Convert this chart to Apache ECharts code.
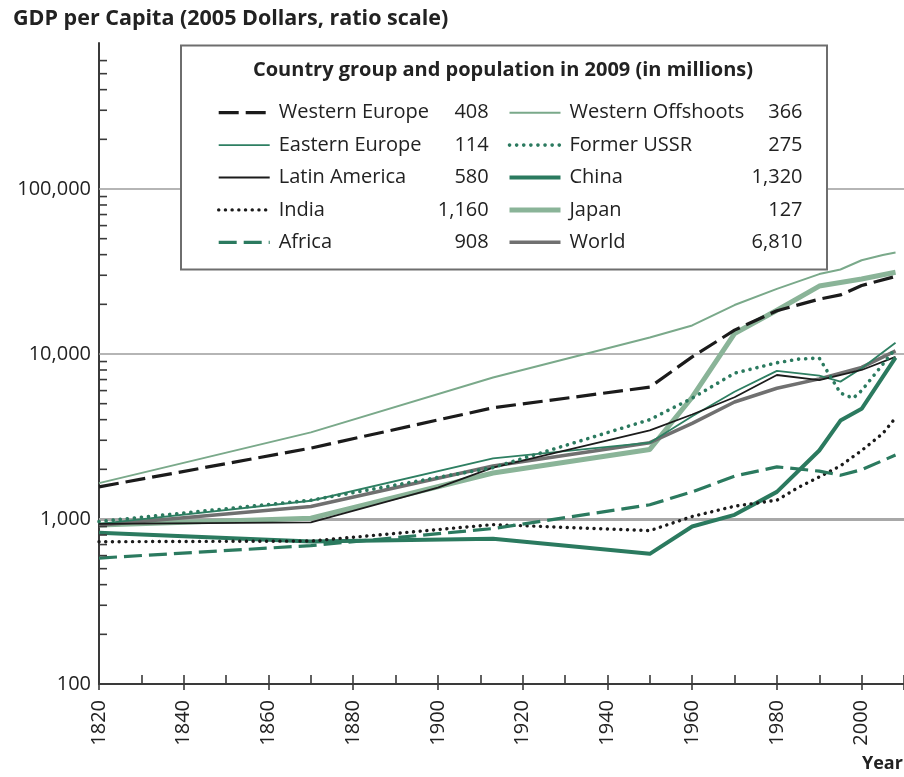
<!DOCTYPE html>
<html>
<head>
<meta charset="utf-8">
<script src="https://cdn.jsdelivr.net/npm/echarts@6/dist/echarts.min.js"></script>
<style>
  html, body { margin: 0; padding: 0; background: #ffffff; }
  #chart { width: 904px; height: 777px; }
</style>
</head>
<body>
<div id="chart"></div>
<script>
// GDP per capita by country group, 1820-2008, on a ratio (log) scale.
const FONT = '"Open Sans", "Noto Sans", sans-serif';

const groupNames = ['Western Europe', 'Eastern Europe', 'Latin America', 'India', 'Africa',
                    'Western Offshoots', 'Former USSR', 'China', 'Japan', 'World'];
const population2009 = ['408', '114', '580', '1,160', '908', '366', '275', '1,320', '127', '6,810'];

// [year, GDP per capita in 2005 dollars]
const westernEurope = [[1820, 1565], [1870, 2690], [1913, 4720], [1950, 6300], [1960, 9600], [1970, 13950],
                       [1980, 18300], [1990, 21500], [1995, 22800], [2000, 26000], [2008, 29500]];
const easternEurope = [[1820, 935], [1870, 1290], [1913, 2330], [1950, 2900], [1960, 4200], [1970, 5900],
                       [1980, 7900], [1990, 7400], [1995, 6800], [2000, 8200], [2008, 11700]];
const latinAmerica = [[1820, 935], [1870, 955], [1900, 1550], [1913, 2050], [1950, 3440], [1960, 4300],
                      [1970, 5470], [1980, 7460], [1990, 6950], [2000, 8000], [2008, 9600]];
const india = [[1820, 728], [1870, 735], [1913, 925], [1950, 850], [1960, 1035], [1970, 1195], [1980, 1300],
               [1985, 1550], [1990, 1800], [1995, 2100], [2000, 2600], [2005, 3300], [2008, 4100]];
const africa = [[1820, 580], [1870, 690], [1913, 875], [1950, 1220], [1960, 1460], [1970, 1820], [1980, 2070],
                [1990, 1950], [1995, 1840], [2000, 1990], [2008, 2440]];
const westernOffshoots = [[1820, 1650], [1870, 3350], [1913, 7200], [1950, 12600], [1960, 14900], [1970, 19800],
                          [1980, 24800], [1990, 30500], [1995, 32500], [2000, 37000], [2005, 39800], [2008, 41200]];
const formerUSSR = [[1820, 965], [1870, 1300], [1913, 2050], [1950, 4000], [1960, 5400], [1970, 7650],
                    [1980, 8850], [1985, 9300], [1990, 9450], [1995, 5800], [1998, 5400], [2000, 6000], [2008, 10800]];
const china = [[1820, 826], [1870, 730], [1913, 760], [1950, 615], [1960, 900], [1970, 1060], [1980, 1460],
               [1990, 2600], [1995, 3950], [2000, 4650], [2008, 9500]];
const japan = [[1820, 920], [1870, 1010], [1913, 1900], [1950, 2640], [1960, 5470], [1970, 13300],
               [1980, 18400], [1990, 25800], [2000, 28500], [2008, 31300]];
const world = [[1820, 915], [1870, 1190], [1913, 2095], [1950, 2900], [1960, 3800], [1970, 5120],
               [1980, 6200], [1990, 7070], [2000, 8300], [2008, 10450]];

// axis furniture
const yLabelValues = [100, 1000, 10000, 100000];
const yMinorTicks = [200, 300, 400, 500, 600, 700, 800, 900,
                     2000, 3000, 4000, 5000, 6000, 7000, 8000, 9000,
                     20000, 30000, 40000, 50000, 60000, 70000, 80000, 90000,
                     200000, 300000, 400000, 500000, 600000];
const gridValues = [1000, 10000, 100000];

const DARK_GREEN = '#2b7a5f';
const LIGHT_GREEN = '#8ab498';
const seriesData = {
  'Western Europe': westernEurope, 'Eastern Europe': easternEurope, 'Latin America': latinAmerica,
  'India': india, 'Africa': africa, 'Western Offshoots': westernOffshoots, 'Former USSR': formerUSSR,
  'China': china, 'Japan': japan, 'World': world
};
const seriesStyle = {
  'Western Offshoots': { color: '#7aa98a', width: 2, type: 'solid', z: 3 },
  'Japan':             { color: LIGHT_GREEN, width: 5, type: 'solid', z: 3 },
  'World':             { color: '#707070', width: 3.5, type: 'solid', z: 3 },
  'Western Europe':    { color: '#1b1b1b', width: 3.2, type: [20, 7], z: 4 },
  'Eastern Europe':    { color: '#2e7f62', width: 1.8, type: 'solid', z: 4 },
  'Latin America':     { color: '#1b1b1b', width: 1.8, type: 'solid', z: 4 },
  'Former USSR':       { color: DARK_GREEN, width: 3.6, type: [0.1, 7], cap: 'round', z: 4 },
  'China':             { color: DARK_GREEN, width: 4, type: 'solid', z: 4 },
  'India':             { color: '#1b1b1b', width: 3.4, type: [0.1, 6.6], cap: 'round', z: 5 },
  'Africa':            { color: DARK_GREEN, width: 3.2, type: [18, 7], z: 5 }
};

const lineSeries = groupNames.map(name => {
  const s = seriesStyle[name];
  return {
    name: name,
    type: 'line',
    data: seriesData[name],
    symbol: 'none',
    smooth: false,
    z: s.z,
    color: s.color,
    lineStyle: { color: s.color, width: s.width, type: s.type, cap: s.cap || 'butt', join: 'round' },
    emphasis: { disabled: true },
    animation: false
  };
});

// y minor ticks drawn inward from the axis, plus the reference gridlines
const tickSeries = {
  type: 'custom',
  data: yMinorTicks.map(v => [1820, v]),
  clip: false,
  silent: true,
  z: 6,
  animation: false,
  renderItem: (params, api) => {
    const p = api.coord([api.value(0), api.value(1)]);
    return {
      type: 'line',
      shape: { x1: p[0], y1: p[1], x2: p[0] + 8, y2: p[1] },
      style: { stroke: '#3a3a3a', lineWidth: 1.6 }
    };
  },
  markLine: {
    silent: true,
    symbol: ['none', 'none'],
    label: { show: false },
    z: 1,
    animation: false,
    data: gridValues.map(v => ({
      yAxis: v,
      lineStyle: v === 1000
        ? { color: '#a8a8a8', width: 3, type: 'solid' }
        : { color: '#9c9c9c', width: 1.5, type: 'solid' }
    }))
  }
};

function legendFor(names, left, nameWidth, valueWidth) {
  return {
    data: names,
    orient: 'vertical',
    left: left,
    top: 102.7,
    padding: 0,
    itemWidth: 51,
    itemHeight: 14,
    itemGap: 12.4,
    selectedMode: false,
    z: 20,
    itemStyle: { opacity: 0 },
    lineStyle: { width: 'inherit' },
    formatter: name => '{n|' + name + '}{v|' + population2009[groupNames.indexOf(name)] + '}',
    textStyle: {
      fontFamily: FONT, fontSize: 20, color: '#222',
      rich: {
        n: { width: nameWidth, padding: [0, 0, 0, 4], fontFamily: FONT, fontSize: 20, lineHeight: 20, color: '#222' },
        v: { width: valueWidth, align: 'right', fontFamily: FONT, fontSize: 20, lineHeight: 20, color: '#222' }
      }
    }
  };
}

const chart = echarts.init(document.getElementById('chart'), null, { renderer: 'canvas' });
chart.setOption({
  animation: false,
  backgroundColor: '#ffffff',
  textStyle: { fontFamily: FONT },
  title: [
    {
      text: 'GDP per Capita (2005 Dollars, ratio scale)',
      left: 13, top: 8, padding: 0, z: 20,
      textStyle: { fontFamily: FONT, fontSize: 21.5, fontWeight: 'bold', color: '#222' }
    },
    {
      text: 'Country group and population in 2009 (in millions)',
      left: 503, top: 60, padding: 0, textAlign: 'center', z: 20,
      textStyle: { fontFamily: FONT, fontSize: 20, fontWeight: 'bold', color: '#222' }
    }
  ],
  legend: [
    legendFor(groupNames.slice(0, 5), 217, 140, 70),
    legendFor(groupNames.slice(5), 507, 166, 67)
  ],
  graphic: {
    elements: [
      {
        type: 'rect', left: 180, top: 44.5, z: 15, silent: true,
        shape: { width: 646, height: 224 },
        style: { fill: '#ffffff', stroke: '#6e6e6e', lineWidth: 2 }
      },
      {
        type: 'text', left: 862, top: 755, z: 15, silent: true,
        style: { text: 'Year', fontFamily: FONT, fontSize: 18, fontWeight: 'bold', fill: '#222' }
      }
    ]
  },
  grid: { left: 99, top: 43, width: 813, height: 641, containLabel: false },
  xAxis: [
    {
      type: 'value', min: 1820, max: 2010, interval: 20, position: 'bottom',
      axisLine: { show: true, onZero: false, lineStyle: { color: '#3a3a3a', width: 2 } },
      axisTick: { show: true, inside: false, length: 6, lineStyle: { color: '#3a3a3a', width: 1.6 } },
      axisLabel: {
        rotate: 90, margin: 16, fontFamily: FONT, fontSize: 20, color: '#222',
        formatter: v => (v % 20 === 0 && v <= 2000) ? String(v) : ''
      },
      splitLine: { show: false }
    },
    {
      type: 'value', min: 1820, max: 2010, interval: 10, position: 'bottom',
      axisLine: { show: false, onZero: false },
      axisTick: { show: true, inside: true, length: 9, lineStyle: { color: '#3a3a3a', width: 1.6 } },
      axisLabel: { show: false },
      splitLine: { show: false }
    }
  ],
  yAxis: {
    type: 'log', logBase: 10, min: 100, max: 767000,
    axisLine: { show: true, lineStyle: { color: '#3a3a3a', width: 2 } },
    axisTick: { show: false },
    splitLine: { show: false },
    minorTick: { show: false },
    axisLabel: {
      margin: 8, fontFamily: FONT, fontSize: 20, color: '#222',
      formatter: v => {
        const hit = yLabelValues.find(t => Math.abs(Math.log10(v) - Math.log10(t)) < 1e-6);
        return hit ? hit.toLocaleString('en-US') : '';
      }
    }
  },
  series: lineSeries.concat([tickSeries])
});
</script>
</body>
</html>
